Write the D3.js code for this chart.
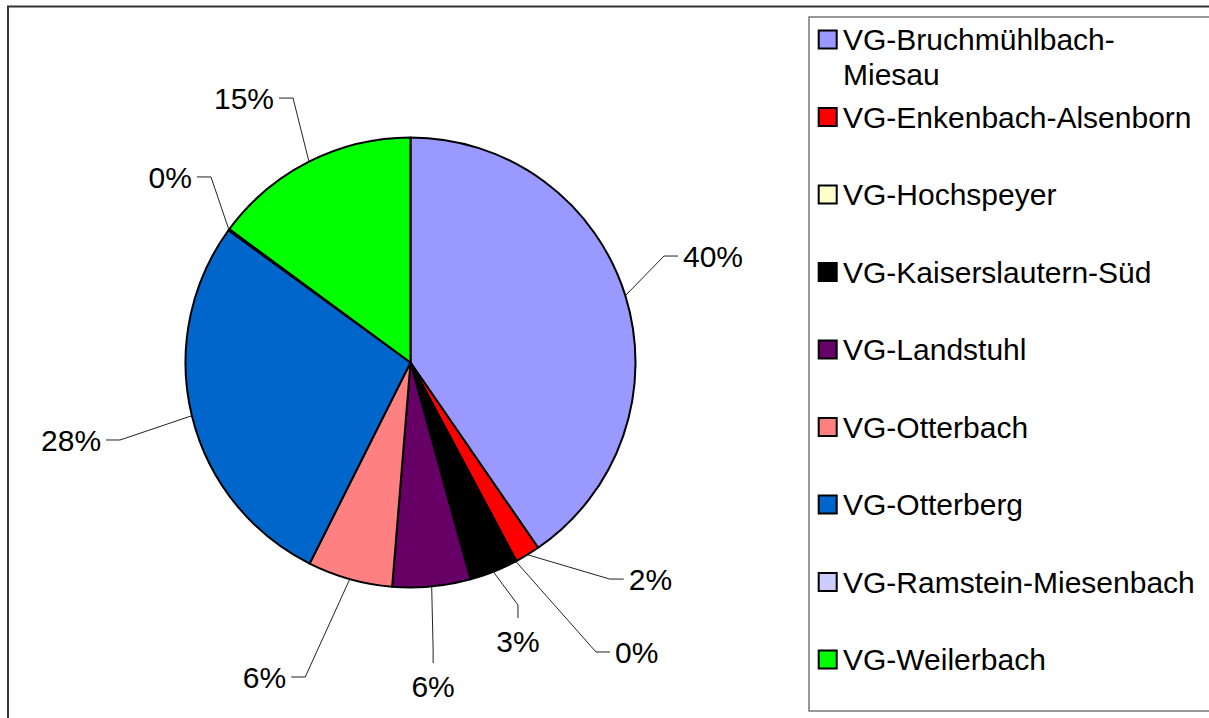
<!DOCTYPE html>
<html>
<head>
<meta charset="utf-8">
<script src="https://cdn.jsdelivr.net/npm/d3@7/dist/d3.min.js"></script>
<style>
  html, body { margin: 0; padding: 0; background: #fff; }
  svg { display: block; }
  text { font-family: "Liberation Sans", Arial, sans-serif; fill: #000; }
</style>
</head>
<body>
<svg id="chart" width="1209" height="718"></svg>
<script>
// ---- data ----
const categories = [
  "VG-Bruchmühlbach-Miesau",
  "VG-Enkenbach-Alsenborn",
  "VG-Hochspeyer",
  "VG-Kaiserslautern-Süd",
  "VG-Landstuhl",
  "VG-Otterbach",
  "VG-Otterberg",
  "VG-Ramstein-Miesenbach",
  "VG-Weilerbach"
];
const values = [40.4, 1.8, 0.1, 3.4, 5.6, 6.1, 27.6, 0.1, 14.9];
const colors = ["#9999FF", "#FF0000", "#FFFFCC", "#000000", "#660066", "#FF8080", "#0066CC", "#CCCCFF", "#00FF00"];

// label placement (Excel-like manual label positions): angle nudge from slice middle (deg), radius factor
const labelAngleNudge = [-5.5, -11.3, -4.75, -2.3, 0.9, 2.85, -1.26, 6.74, 2.87];
const labelRadiusFactor = [1.222, 1.308, 1.528, 1.179, 1.282, 1.474, 1.336, 1.211, 1.286];

// ---- layout ----
const W = 1209, H = 718;
const cx = 410.5, cy = 362.5, R = 225;
const fontSize = 30;
const capHalf = 0.716 * fontSize / 2;

const svg = d3.select("#chart");

// outer chart frame
svg.append("rect")
  .attr("x", 8).attr("y", 6.5).attr("width", W + 20).attr("height", H + 20)
  .attr("fill", "#fff").attr("stroke", "#333").attr("stroke-width", 2);

const total = d3.sum(values);
const pie = d3.pie().sort(null).value(d => d);
const arcs = pie(values);
const arc = d3.arc().innerRadius(0).outerRadius(R);

const g = svg.append("g").attr("transform", `translate(${cx},${cy})`);

g.selectAll("path.slice")
  .data(arcs)
  .join("path")
  .attr("class", "slice")
  .attr("d", arc)
  .attr("fill", (d, i) => colors[i])
  .attr("stroke", "#000")
  .attr("stroke-width", 2)
  .attr("stroke-linejoin", "round");

// ---- data labels with leader lines ----
const toRad = Math.PI / 180;
const labels = g.append("g");
arcs.forEach((d, i) => {
  const mid = (d.startAngle + d.endAngle) / 2;
  const ex = R * Math.sin(mid), ey = -R * Math.cos(mid);
  const la = mid + labelAngleNudge[i] * toRad;
  const lr = R * labelRadiusFactor[i];
  const px = lr * Math.sin(la), py = -lr * Math.cos(la);
  const deg = (la / toRad) % 360;
  const txt = Math.round(d.value / total * 100) + "%";
  let pts, tx, ty, anchor;
  if (deg > 150 && deg < 190) {
    pts = [[ex, ey], [px, py], [px, py + 13]];
    tx = px; ty = py + 47; anchor = "middle";
  } else if (Math.sin(la) > 0) {
    pts = [[ex, ey], [px, py], [px + 14, py]];
    tx = px + 19; ty = py + capHalf; anchor = "start";
  } else {
    pts = [[ex, ey], [px, py], [px - 14, py]];
    tx = px - 19; ty = py + capHalf; anchor = "end";
  }
  labels.append("path")
    .attr("d", d3.line()(pts))
    .attr("fill", "none")
    .attr("stroke", "#222")
    .attr("stroke-width", 1);
  labels.append("text")
    .attr("x", tx).attr("y", ty)
    .attr("text-anchor", anchor)
    .attr("font-size", fontSize)
    .text(txt);
});

// ---- legend ----
const legX = 809, legY = 17, legH = 694;
svg.append("rect")
  .attr("x", legX).attr("y", legY).attr("width", W).attr("height", legH)
  .attr("fill", "#fff").attr("stroke", "#777").attr("stroke-width", 1.5);

const ly = d3.scalePoint().domain(categories).range([39.5, 659.5]);
const textX = 843, maxTextW = 360;

const items = svg.append("g").selectAll("g.item")
  .data(categories)
  .join("g")
  .attr("class", "item");

items.append("rect")
  .attr("x", 818.7)
  .attr("y", d => ly(d) - 9)
  .attr("width", 18).attr("height", 18)
  .attr("fill", (d, i) => colors[i])
  .attr("stroke", "#000").attr("stroke-width", 2);

items.each(function (name) {
  const t = d3.select(this).append("text")
    .attr("x", textX)
    .attr("y", ly(name) + capHalf)
    .attr("font-size", fontSize);
  const tokens = name.split(/(?<=-)/);
  let line = "";
  let tspan = t.append("tspan").attr("x", textX).attr("dy", 0);
  tokens.forEach(tok => {
    const test = line + tok;
    tspan.text(test);
    if (tspan.node().getComputedTextLength() > maxTextW && line !== "") {
      tspan.text(line);
      line = tok;
      tspan = t.append("tspan").attr("x", textX).attr("dy", 35).text(tok);
    } else {
      line = test;
    }
  });
});
</script>
</body>
</html>
